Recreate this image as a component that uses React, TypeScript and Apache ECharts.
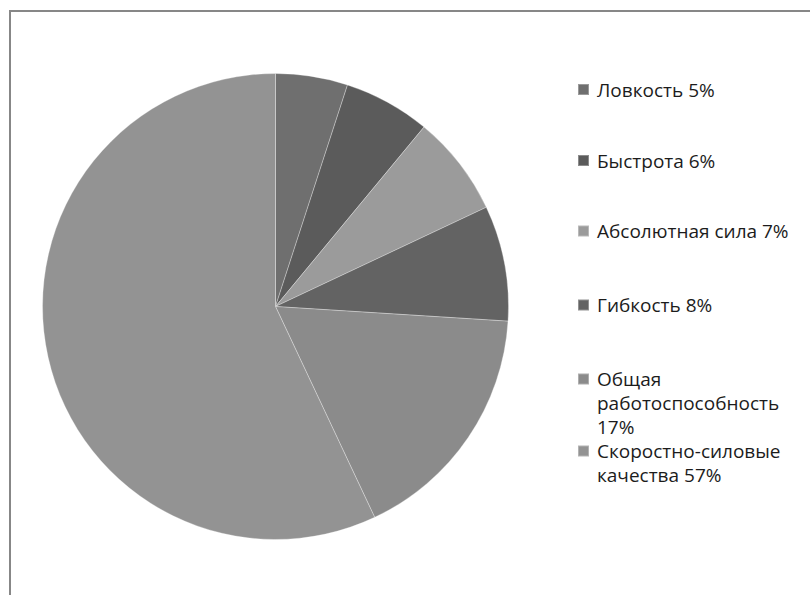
import React, { useEffect, useRef } from "react";
import * as echarts from "echarts";

const categories = [
  "Ловкость",
  "Быстрота",
  "Абсолютная сила",
  "Гибкость",
  "Общая работоспособность",
  "Скоростно-силовые качества",
];
const values = [5, 6, 7, 8, 17, 57];
const sliceColors = ["#6f6f6f", "#5b5b5b", "#9b9b9b", "#636363", "#8b8b8b", "#939393"];
const legendCenters = [89.5, 160.5, 231, 305, 379, 451];

const FONT = "'Open Sans', 'Noto Sans', sans-serif";
const LINE_H = 24;

function wrap(text: string, maxChars: number): string[] {
  const words = text.split(" ");
  const lines: string[] = [];
  let cur = "";
  for (const w of words) {
    if (!cur) cur = w;
    else if ((cur + " " + w).length <= maxChars) cur = cur + " " + w;
    else {
      lines.push(cur);
      cur = w;
    }
  }
  if (cur) lines.push(cur);
  return lines;
}

export default function App() {
  const ref = useRef<HTMLDivElement>(null);
  useEffect(() => {
    if (!ref.current) return;
    const chart = echarts.init(ref.current, undefined, { renderer: "svg" });
    const labelLines = categories.map((c, i) => wrap(`${c} ${values[i]}%`, 18));
    const legends = categories.map((c, i) => {
      const n = labelLines[i].length;
      return {
        orient: "vertical" as const,
        left: 577,
        top: legendCenters[i] - ((2 * n - 1) * LINE_H) / 2,
        padding: 0,
        itemGap: 0,
        itemWidth: 11,
        itemHeight: 11,
        icon: "rect",
        selectedMode: false,
        textStyle: {
          fontFamily: FONT,
          fontSize: 19,
          lineHeight: LINE_H,
          color: "#1c1c1c",
          padding: [0, 0, 0, 3],
        },
        data: [{ name: c }],
        formatter: (name: string) => {
          const idx = categories.indexOf(name);
          const lines = labelLines[idx];
          // leading blank lines keep the first line level with the marker
          return "\n".repeat(lines.length - 1) + lines.join("\n");
        },
      };
    });
    chart.setOption({
      animation: false,
      backgroundColor: "#ffffff",
      color: sliceColors,
      legend: legends,
      graphic: [
        {
          type: "rect",
          silent: true,
          shape: { x: 10, y: 11, width: 900, height: 700 },
          style: { fill: "none", stroke: "#878787", lineWidth: 2 },
        },
      ],
      series: [
        {
          type: "pie",
          center: [275.5, 306.5],
          radius: 233,
          startAngle: 90,
          clockwise: true,
          label: { show: false },
          labelLine: { show: false },
          emphasis: { disabled: true },
          itemStyle: { borderColor: "rgba(255,255,255,0.3)", borderWidth: 1 },
          data: categories.map((c, i) => ({ name: c, value: values[i] })),
        },
      ],
    });
    return () => chart.dispose();
  }, []);
  return (
    <div
      ref={ref}
      style={{ position: "absolute", left: 0, top: 0, width: 810, height: 595 }}
    />
  );
}
